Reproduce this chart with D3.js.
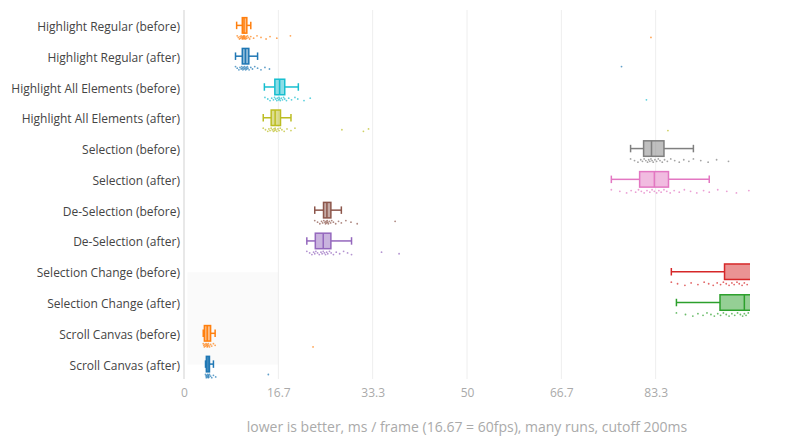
<!DOCTYPE html>
<html><head><meta charset="utf-8">
<script src="https://cdn.jsdelivr.net/npm/d3@7"></script>
<style>body{margin:0;background:#fff}svg{display:block;font-family:"Open Sans",sans-serif}</style>
</head><body><svg id="c" width="800" height="440"></svg>
<script>
const categories = ["Highlight Regular (before)","Highlight Regular (after)","Highlight All Elements (before)","Highlight All Elements (after)","Selection (before)","Selection (after)","De-Selection (before)","De-Selection (after)","Selection Change (before)","Selection Change (after)","Scroll Canvas (before)","Scroll Canvas (after)"];
const colors = ["#ff7f0e","#1f77b4","#17becf","#bcbd22","#7f7f7f","#e377c2","#8c564b","#9467bd","#d62728","#2ca02c","#ff7f0e","#1f77b4"];
const whiskerLo = [9.3,9.1,14.2,14.0,78.9,75.5,23.1,21.7,86.1,87.0,3.4,3.8];
const q1 = [10.3,10.3,16.05,15.4,81.2,80.5,24.65,23.2,95.5,94.7,3.6,3.95];
const median = [10.6,10.85,16.9,16.1,82.6,83.1,25.25,24.6,103,99.0,4.1,4.25];
const q3 = [11.1,11.45,17.8,17.05,84.8,85.6,25.95,25.95,108,104,4.7,4.5];
const whiskerHi = [11.8,13.0,20.2,18.9,90.0,92.8,27.8,29.6,115,112,5.5,5.2];
const points = [
 [9.4,9.6,9.8,9.9,10.0,10.1,10.2,10.3,10.3,10.4,10.5,10.5,10.6,10.6,10.7,10.7,10.8,10.9,11.0,11.1,11.2,11.4,11.6,11.8,12.3,12.9,13.6,14.5,15.2,16.4,18.8,82.5],
 [9.1,9.4,9.7,9.9,10.1,10.2,10.3,10.4,10.5,10.6,10.7,10.8,10.9,11.0,11.1,11.2,11.3,11.5,11.8,12.1,12.5,13.0,13.6,14.3,15.1,77.3],
 [14.3,14.8,15.2,15.5,15.8,16.0,16.2,16.4,16.5,16.7,16.8,16.9,17.0,17.2,17.4,17.6,17.8,18.1,18.5,19.0,19.6,20.1,21.2,22.3,81.7],
 [14.0,14.4,14.8,15.0,15.2,15.4,15.6,15.8,15.9,16.0,16.1,16.2,16.4,16.6,16.8,17.0,17.3,17.7,18.2,18.9,19.6,27.9,31.7,32.6,85.5],
 [78.9,79.6,80.2,80.7,81.0,81.3,81.6,81.9,82.1,82.3,82.5,82.7,82.9,83.2,83.5,83.8,84.1,84.5,84.9,85.4,86.0,86.7,87.5,88.3,89.2,90.0,91.3,92.6,94.1,96.2],
 [75.5,77.0,78.2,79.0,79.8,80.3,80.8,81.3,81.8,82.3,82.7,83.1,83.5,83.9,84.3,84.8,85.3,85.9,86.6,87.5,88.4,89.5,90.6,91.8,92.8,94.3,95.9,97.6,99.8],
 [23.1,23.6,24.0,24.3,24.5,24.7,24.9,25.0,25.1,25.2,25.3,25.4,25.5,25.7,25.9,26.1,26.4,26.8,27.3,27.8,28.6,29.5,30.6,37.3],
 [21.7,22.2,22.6,22.9,23.1,23.3,23.6,23.9,24.2,24.4,24.6,24.8,25.0,25.2,25.4,25.7,26.0,26.4,26.9,27.5,28.2,28.9,29.6,34.9,38.0],
 [86.1,87.2,88.5,89.6,90.8,91.9,92.7,93.5,94.2,94.8,95.3,95.8,96.3,96.8,97.2,97.7,98.1,98.6,99.0,99.5,100.2,101,102,103,104,105,106.5,108,110,112,115],
 [87.0,88.6,89.9,90.8,91.7,92.4,93.1,93.7,94.3,94.8,95.3,95.8,96.3,96.8,97.3,97.8,98.3,98.7,99.0,99.3,99.7,100.3,101,102,103,104,106,108,112],
 [3.4,3.5,3.6,3.7,3.8,3.9,4.0,4.1,4.1,4.2,4.3,4.4,4.5,4.7,4.9,5.2,5.5,22.8],
 [3.8,3.9,3.95,4.0,4.1,4.2,4.25,4.3,4.35,4.4,4.5,4.7,4.9,5.2,5.6,14.9]
];
const tickValues = [0,16.67,33.33,50,66.67,83.33];
const tickLabels = ["0","16.7","33.3","50","66.7","83.3"];
const axisTitle = "lower is better, ms / frame (16.67 = 60fps), many runs, cutoff 200ms";

const svg = d3.select("#c");
const L = 184, R = 750, T = 10, B = 379;
const x = d3.scaleLinear().domain([0,100]).range([L,R]);
const y = d3.scaleBand().domain(categories).range([T+0.5,B+1]);
const bw = y.bandwidth();
const cy = c => y(c) + bw/2;

svg.append("defs").append("clipPath").attr("id","clip")
  .append("rect").attr("x",L).attr("y",T).attr("width",R-L).attr("height",B-T);

// light shaded background area
svg.append("rect").attr("x",x(0.6)).attr("y",cy(categories[8]))
  .attr("width",x(16.67)-x(0.6)).attr("height",cy(categories[11])-cy(categories[8]))
  .attr("fill","#fafafa");

// grid
svg.append("g").selectAll("line").data(tickValues.slice(1)).join("line")
  .attr("x1",d=>x(d)).attr("x2",d=>x(d)).attr("y1",T).attr("y2",B)
  .attr("stroke","#eeeeee").attr("stroke-width",1);
svg.append("line").attr("x1",x(0)).attr("x2",x(0)).attr("y1",T).attr("y2",B)
  .attr("stroke","#e8e8e8").attr("stroke-width",2);

// axis
const xAxis = d3.axisBottom(x).tickValues(tickValues).tickFormat((d,i)=>tickLabels[i]).tickSize(0).tickPadding(9);
const ax = svg.append("g").attr("transform",`translate(0,${B})`).call(xAxis);
ax.select(".domain").remove();
ax.selectAll("text").attr("fill","#aaaaaa").style("font-size","12px").style("font-family","Open Sans");

const yAxis = d3.axisLeft(y).tickSize(0).tickPadding(4);
const ay = svg.append("g").attr("transform",`translate(${L},0)`).call(yAxis);
ay.select(".domain").remove();
ay.selectAll("text").attr("fill","#444444").attr("dy","0.42em").style("font-size","12px").style("font-family","Open Sans");

svg.append("text").attr("x",(L+R)/2).attr("y",432).attr("text-anchor","middle")
  .attr("fill","#aaaaaa").style("font-size","14px").text(axisTitle);

const g = svg.append("g").attr("clip-path","url(#clip)");
const bh = 15.5, ch = 7.5;
categories.forEach((c,i) => {
  const col = colors[i], yc = cy(c) - 0.5;
  const gg = g.append("g");
  gg.append("line").attr("x1",x(whiskerLo[i])).attr("x2",x(q1[i])).attr("y1",yc).attr("y2",yc).attr("stroke",col).attr("stroke-width",1.5);
  gg.append("line").attr("x1",x(q3[i])).attr("x2",x(whiskerHi[i])).attr("y1",yc).attr("y2",yc).attr("stroke",col).attr("stroke-width",1.5);
  [whiskerLo[i],whiskerHi[i]].forEach(v=>gg.append("line").attr("x1",x(v)).attr("x2",x(v)).attr("y1",yc-ch/2).attr("y2",yc+ch/2).attr("stroke",col).attr("stroke-width",1.5));
  gg.append("rect").attr("x",x(q1[i])).attr("y",yc-bh/2).attr("width",x(q3[i])-x(q1[i])).attr("height",bh)
    .attr("fill",col).attr("fill-opacity",0.5).attr("stroke",col).attr("stroke-width",1.5);
  gg.append("line").attr("x1",x(median[i])).attr("x2",x(median[i])).attr("y1",yc-bh/2).attr("y2",yc+bh/2).attr("stroke",col).attr("stroke-width",1.5);
  gg.selectAll("circle").data(points[i]).join("circle")
    .attr("cx",d=>x(d)).attr("cy",(d,j)=>yc + 12 + ((j*7)%5 - 2)*0.8)
    .attr("r",0.9).attr("fill",col).attr("fill-opacity",0.7);
});
</script></body></html>
